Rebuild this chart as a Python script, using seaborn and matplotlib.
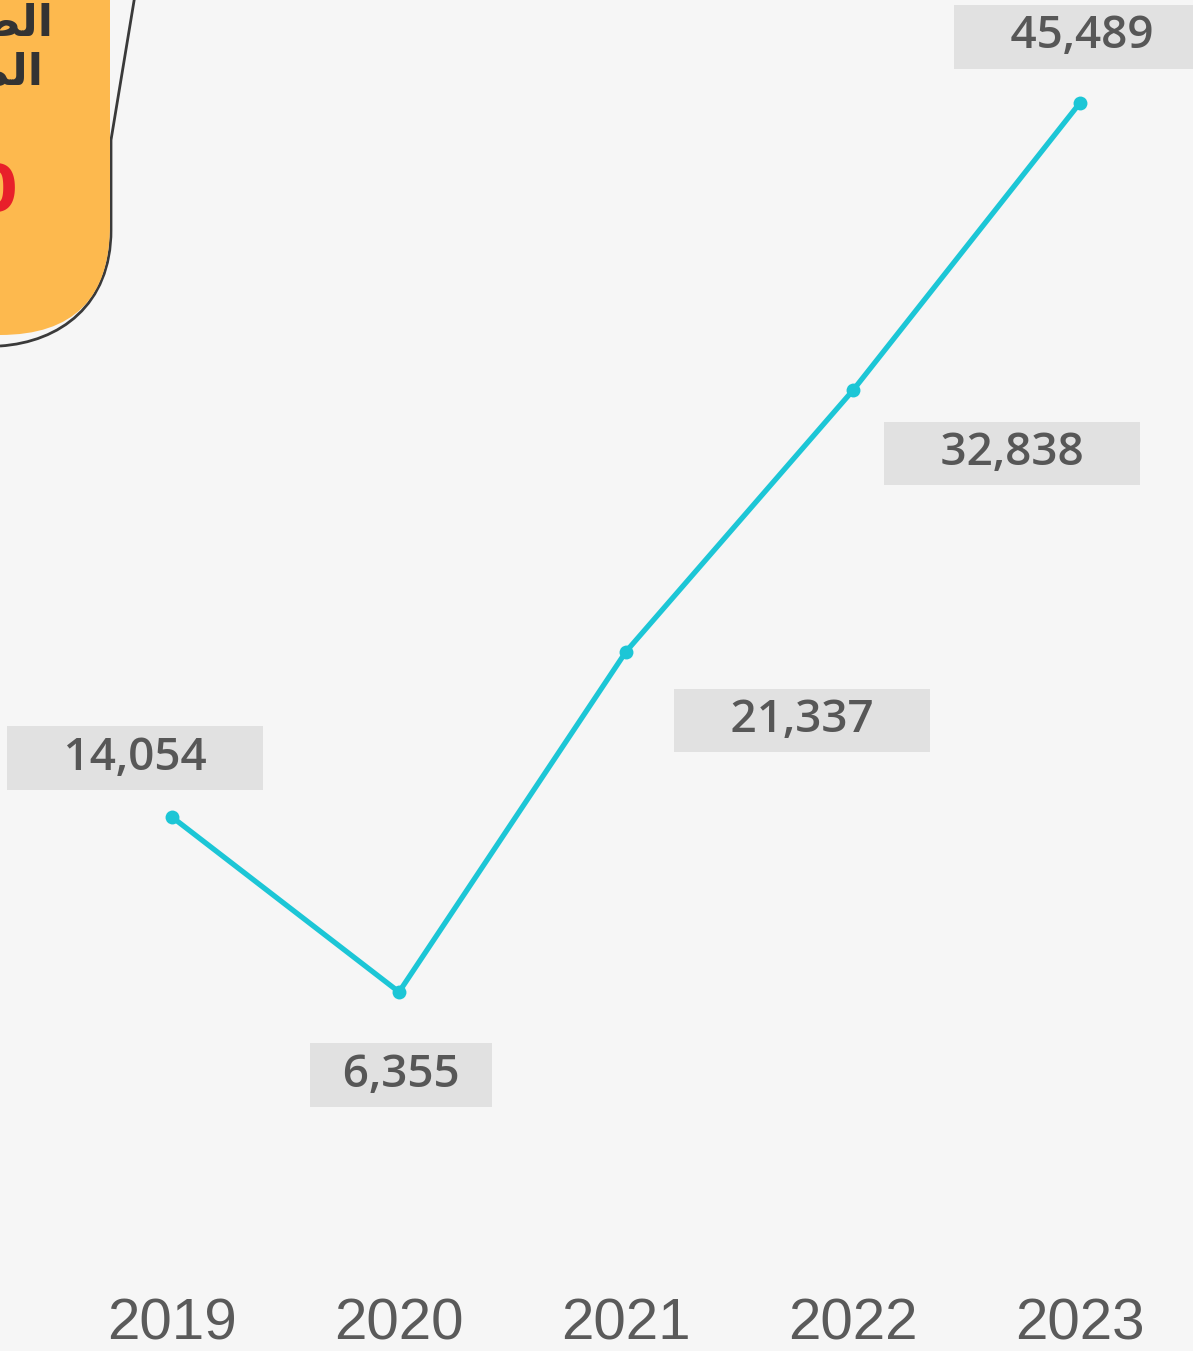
import matplotlib
matplotlib.use("Agg")
import matplotlib.pyplot as plt
from matplotlib.patches import FancyBboxPatch, PathPatch
from matplotlib.path import Path
from matplotlib.transforms import Affine2D, blended_transform_factory
import pandas as pd
import seaborn as sns

years = ["2019", "2020", "2021", "2022", "2023"]
values = [14054, 6355, 21337, 32838, 45489]
# label offsets (pixels) from each point, and padding spaces inside the grey box
label_dx = [-37, 2, 176, 159, 2]
label_dy = [59, -83, -69, -63, 66]
label_pad = [4, 2, 4, 4, 4]

df = pd.DataFrame({"year": range(len(years)), "value": values})

sns.set_theme(style="white")
W, H = 1193, 1351
fig = plt.figure(figsize=(W / 100, H / 100), dpi=100)
fig.patch.set_facecolor("#f6f6f6")
ax = fig.add_axes([0, 0, 1, 1])
ax.set_facecolor("#f6f6f6")

sns.lineplot(data=df, x="year", y="value", ax=ax, color="#1cc6d6",
             linewidth=3.8, marker="o", markersize=10, markeredgewidth=0)

ax.set_xlim(-0.758, 4.498)
ax.set_ylim(-9446, 50017)
ax.axis("off")

for i, v in enumerate(values):
    pad = " " * label_pad[i]
    ax.annotate(f"{pad}{v:,}{pad}", (i, v), xytext=(label_dx[i], label_dy[i]),
                textcoords="offset pixels", ha="center", va="center",
                fontsize=33, family="Open Sans", weight="semibold", color="#575757",
                bbox=dict(boxstyle="square,pad=0.2", fc="#e1e1e1", ec="none"))

tr = blended_transform_factory(ax.transData, ax.transAxes)
for i, y in enumerate(years):
    ax.text(i, 1 - 1324 / H, y, transform=tr, ha="center", va="center",
            fontsize=42, family="Liberation Sans", color="#5a5a5a")

# decorative orange card cut off at the top-left corner (pixel coords, y down)
flip = Affine2D().scale(1, -1).translate(0, H)
card = FancyBboxPatch((-300, -120), 410, 455, boxstyle="round,pad=0,rounding_size=110",
                      fc="#fdb94e", ec="none", transform=flip, zorder=3)
fig.patches.append(card)
outline = Path([(135, -5), (111, 140), (111, 230), (111, 305), (60, 342), (0, 346)],
               [Path.MOVETO, Path.LINETO, Path.LINETO, Path.CURVE4, Path.CURVE4, Path.CURVE4])
fig.patches.append(PathPatch(outline, fc="none", ec="#3a3a3a", lw=2, transform=flip, zorder=2))

fig.text(53 / W, 1 - 24 / H, "\ufebc\ufedf\ufe8d", ha="right", va="center",
         fontsize=32, weight="bold", family="DejaVu Sans", color="#333333", zorder=5)
fig.text(43 / W, 1 - 72 / H, "\ufee4\ufedf\ufe8d", ha="right", va="center",
         fontsize=32, weight="bold", family="DejaVu Sans", color="#333333", zorder=5)
fig.text(17 / W, 1 - 182 / H, "%", ha="right", va="center",
         fontsize=80, weight="bold", family="Liberation Sans", color="#e8202a", zorder=5)

fig.savefig("out.png", dpi=100, facecolor=fig.get_facecolor())
